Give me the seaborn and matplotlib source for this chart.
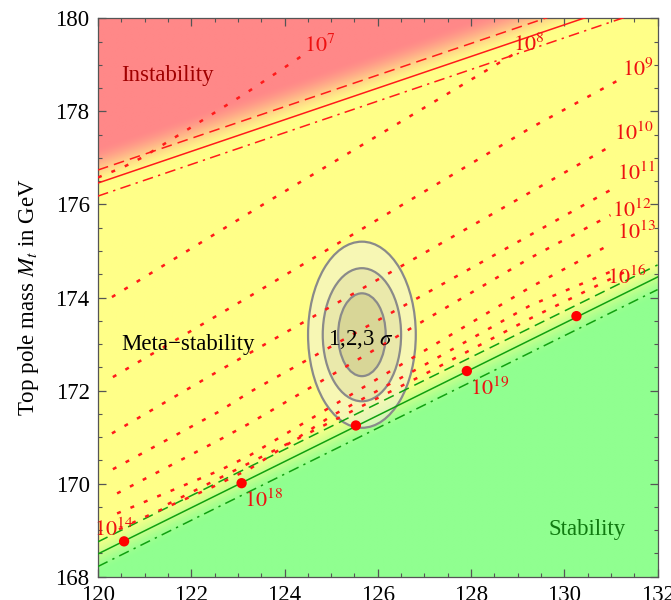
import numpy as np
import pandas as pd
import matplotlib
matplotlib.use("Agg")
import matplotlib.pyplot as plt
import seaborn as sns
from matplotlib.patches import Ellipse
from matplotlib.ticker import MultipleLocator
from matplotlib.font_manager import FontProperties

# ---- axis ticks ----
x_ticks = [120, 122, 124, 126, 128, 130, 132]
x_tick_labels = ["120", "122", "124", "126", "128", "130", "132"]
y_ticks = [168, 170, 172, 174, 176, 178, 180]
y_tick_labels = ["168", "170", "172", "174", "176", "178", "180"]

# ---- boundary lines (Higgs mass in GeV -> top pole mass in GeV) ----
mh_ends = [120.0, 132.0]
inst_central = [176.46, 180.54]
inst_upper = [176.74, 180.82]
inst_lower = [176.18, 180.26]
stab_central = [168.49, 174.44]
stab_upper = [168.75, 174.70]
stab_lower = [168.22, 174.17]

# ---- measured point with 1,2,3 sigma ellipses ----
mh_best, mt_best = 125.66, 173.2
ell_half_mh = [1.155, 0.84, 0.51]
ell_half_mt = [2.0, 1.43, 0.89]

# ---- markers on the stability line ----
dot_mh = [120.56, 123.08, 125.53, 127.91, 130.26]
dot_mt = [168.76, 170.01, 171.25, 172.42, 173.60]

# ---- contours of the instability scale (GeV) ----
c7_mh = [120.0, 120.54, 120.97, 121.97, 123.20, 124.40]
c7_mt = [176.58, 176.80, 177.02, 177.64, 178.41, 179.21]
c8_mh = [120.30, 123.69, 126.2, 128.63, 128.95]
c8_mt = [174.01, 176.09, 177.6, 179.06, 179.25]
c9_mh = [120.32, 123.26, 129.27, 131.16]
c9_mt = [172.29, 174.03, 177.64, 178.67]
c10_mh = [120.30, 122.55, 123.26, 130.92]
c10_mt = [171.08, 172.40, 172.81, 177.21]
c11_mh = [120.32, 122.58, 123.26, 130.99]
c11_mt = [170.31, 171.54, 171.97, 176.31]
c12_mh = [120.41, 122.62, 123.26, 129.27, 130.99]
c12_mt = [169.79, 170.95, 171.30, 174.85, 175.77]
c13_mh = [120.41, 122.62, 123.26, 129.27, 131.0]
c13_mt = [169.36, 170.29, 170.61, 174.22, 175.15]
c14_mh = [120.45, 121.0, 121.6, 122.4, 123.26, 125.0, 127.0, 129.27, 131.1]
c14_mt = [169.02, 169.28, 169.55, 169.9, 170.32, 171.45, 172.55, 173.83, 174.60]
c16_mh = [121.5, 123.26, 125.0, 127.0, 129.27, 131.3]
c16_mt = [169.56, 170.45, 171.33, 172.35, 173.55, 174.55]

scale_lines = [(c7_mh, c7_mt), (c8_mh, c8_mt), (c9_mh, c9_mt), (c10_mh, c10_mt),
               (c11_mh, c11_mt), (c12_mh, c12_mt), (c13_mh, c13_mt),
               (c14_mh, c14_mt), (c16_mh, c16_mt)]

label_exp = ["7", "8", "9", "10", "11", "12", "13", "16", "19", "18", "14"]
label_mh = [124.75, 129.23, 131.57, 131.50, 131.55, 131.46, 131.55, 131.33, 128.41, 123.56, 120.34]
label_mt = [179.42, 179.43, 178.89, 177.51, 176.65, 175.86, 175.40, 174.44, 172.05, 169.64, 169.00]

# ---- colours ----
c_red_bg = np.array([255, 136, 136]) / 255
c_yel_bg = np.array([255, 255, 136]) / 255
c_grn_bg = np.array([144, 255, 144]) / 255
c_line_red = "#ff1a1a"
c_line_grn = "#10a010"

serif = ["Liberation Serif", "DejaVu Serif"]
plt.rcParams["mathtext.fontset"] = "stix"
plt.rcParams["font.family"] = serif
plt.rcParams["font.serif"] = serif
tick_font = FontProperties(family="Liberation Serif", size=16.5)

fig = plt.figure(figsize=(6.71, 6.0), dpi=100)
ax = fig.add_axes([0.146, 0.0388, 0.834, 0.9307])

# ---- shaded phase regions ----
gx = np.linspace(120, 132, 500)
gy = np.linspace(168, 180, 500)
GX, GY = np.meshgrid(gx, gy)
r_line = np.interp(GX, mh_ends, inst_central)
s_line = np.interp(GX, mh_ends, stab_central)
tr = np.clip((GY - r_line + 0.1) / 0.9, 0, 1)
tr = tr * tr * (3 - 2 * tr)
tg = np.clip((s_line + 0.45 - GY) / 0.9, 0, 1)
tg = tg * tg * (3 - 2 * tg)
img = (c_yel_bg[None, None, :] * (1 - tr[..., None]) + c_red_bg[None, None, :] * tr[..., None])
img = img * (1 - tg[..., None]) + c_grn_bg[None, None, :] * tg[..., None]
ax.imshow(img, extent=[120, 132, 168, 180], origin="lower", aspect="auto",
          interpolation="bilinear", zorder=0)

# ---- uncertainty ellipses ----
ell_face = [(0.95, 0.95, 0.85, 0.55), (0.80, 0.79, 0.60, 0.30), (0.72, 0.70, 0.45, 0.35)]
for hw, hh, fc in zip(ell_half_mh, ell_half_mt, ell_face):
    ax.add_patch(Ellipse((mh_best, mt_best), 2 * hw, 2 * hh, facecolor=fc,
                         edgecolor="#8a8a8a", lw=1.6, zorder=2))

# ---- boundary lines ----
def boundary(y, color, ls, lw=1.1):
    sns.lineplot(x=mh_ends, y=y, color=color, linestyle=ls, lw=lw, ax=ax,
                 sort=False, estimator=None, zorder=3)

boundary(inst_central, c_line_red, "-")
boundary(inst_upper, c_line_red, (0, (7, 4)))
boundary(inst_lower, c_line_red, (0, (7, 3.5, 1.5, 3.5)))
boundary(stab_central, c_line_grn, "-")
boundary(stab_upper, c_line_grn, (0, (7, 4)))
boundary(stab_lower, c_line_grn, (0, (7, 3.5, 1.5, 3.5)))

# ---- instability-scale contours ----
for xs, ys in scale_lines:
    sns.lineplot(x=xs, y=ys, color=c_line_red, linestyle=(0, (1.6, 4.2)), lw=1.8,
                 ax=ax, sort=False, estimator=None, zorder=4)

sns.scatterplot(x=dot_mh, y=dot_mt, color="#ff0000", s=55, edgecolor="none",
                ax=ax, zorder=6, clip_on=False)

for e, x, y in zip(label_exp, label_mh, label_mt):
    ax.text(x, y, r"$10^{%s}$" % e, color="#ee1111", fontsize=16,
            ha="center", va="center", zorder=7, clip_on=False)

# ---- region names ----
ax.text(120.49, 178.65, "Instability", color="#a00000", fontsize=16.5, zorder=7)
ax.text(120.51, 172.87, "Meta\u2212stability", color="black", fontsize=16.5, zorder=7)
ax.text(129.66, 168.89, "Stability", color="#107a10", fontsize=16.5, zorder=7)
ax.text(124.94, 172.98, r"1,2,3 $\sigma$", color="black", fontsize=16.5, zorder=7)

# ---- axes ----
ax.set_xlim(120, 132)
ax.set_ylim(168, 180)
ax.set_xticks(x_ticks)
ax.set_xticklabels(x_tick_labels, fontproperties=tick_font)
ax.set_yticks(y_ticks)
ax.set_yticklabels(y_tick_labels, fontproperties=tick_font)
ax.xaxis.set_minor_locator(MultipleLocator(0.5))
ax.yaxis.set_minor_locator(MultipleLocator(0.5))
ax.tick_params(which="both", direction="in", top=True, right=True, color="#555555")
ax.tick_params(which="major", length=5.5, width=0.9, pad=6)
ax.tick_params(which="minor", length=3, width=0.8)
for sp in ax.spines.values():
    sp.set_color("#555555")
    sp.set_linewidth(0.9)
ax.set_xlabel("")
ax.set_ylabel(r"Top pole mass $M_t$ in GeV", fontsize=16.5, fontfamily=serif)
ax.yaxis.set_label_coords(-0.102, 0.5)

fig.savefig("out.png", dpi=100)
